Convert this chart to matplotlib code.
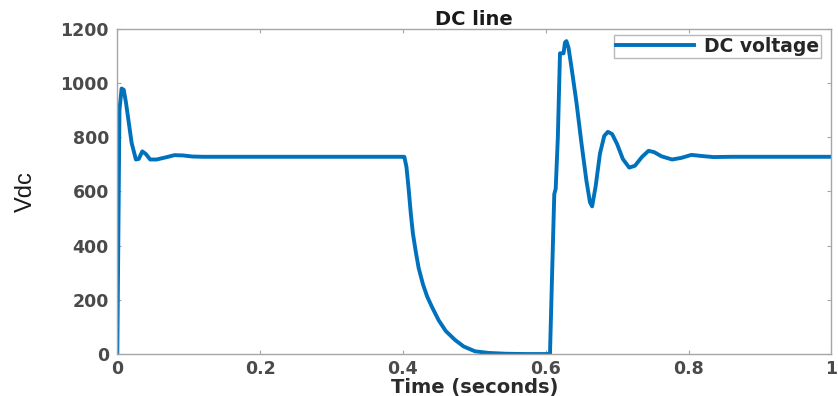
import matplotlib
matplotlib.use('Agg')
import matplotlib.pyplot as plt
from matplotlib import font_manager

# DC link voltage trace
time = [0.0, 0.003, 0.006, 0.009, 0.012, 0.020, 0.026, 0.030, 0.035, 0.040,
        0.046, 0.055, 0.068, 0.080, 0.092, 0.105, 0.120, 0.400,
        0.402, 0.405, 0.408, 0.411, 0.414, 0.418, 0.422, 0.428, 0.434,
        0.441, 0.450, 0.460, 0.473, 0.485, 0.501, 0.520, 0.545, 0.570,
        0.606, 0.609, 0.612, 0.614, 0.617, 0.620, 0.625, 0.627, 0.629,
        0.632, 0.636, 0.643, 0.650, 0.657, 0.662, 0.665, 0.670, 0.676,
        0.682, 0.687, 0.693, 0.700, 0.708, 0.717, 0.725, 0.735, 0.744,
        0.752, 0.762, 0.777, 0.790, 0.804, 0.818, 0.835, 0.860, 1.0]
vdc = [0, 900, 980, 975, 930, 780, 718, 720, 748, 738,
       718, 718, 726, 734, 733, 729, 728, 728,
       728, 690, 610, 520, 445, 378, 318, 258, 212,
       172, 125, 85, 52, 28, 10, 4, 1, 0,
       0, 300, 590, 610, 800, 1110, 1110, 1150, 1155,
       1130, 1060, 930, 780, 640, 560, 545, 620, 740,
       805, 820, 812, 775, 720, 688, 695, 728, 750,
       745, 730, 718, 724, 735, 731, 727, 728, 728]

series_label = 'DC voltage'
x_ticks = [0, 0.2, 0.4, 0.6, 0.8, 1]
x_tick_labels = ['0', '0.2', '0.4', '0.6', '0.8', '1']
y_ticks = [0, 200, 400, 600, 800, 1000, 1200]

installed = {f.name for f in font_manager.fontManager.ttflist}
narrow = 'Liberation Sans Narrow' if 'Liberation Sans Narrow' in installed else 'Liberation Sans'

plt.rcParams['font.family'] = ['DejaVu Sans']

fig = plt.figure(figsize=(8.38, 3.96), dpi=100)
ax = fig.add_axes([0.140, 0.106, 0.852, 0.821])

ax.plot(time, vdc, color='#0072BD', linewidth=2.8, label=series_label)

ax.set_xlim(0, 1)
ax.set_ylim(0, 1200)
ax.set_xticks(x_ticks)
ax.set_xticklabels(x_tick_labels)
ax.set_yticks(y_ticks)

for s in ax.spines.values():
    s.set_color('#a6a6a6')
    s.set_linewidth(1.0)
ax.tick_params(axis='both', direction='in', top=True, right=True, length=3,
               color='#a6a6a6', labelsize=12.5, labelcolor='#4a4a4a')
ax.tick_params(axis='x', pad=4)
ax.tick_params(axis='y', pad=6)
for lab in ax.get_xticklabels() + ax.get_yticklabels():
    lab.set_fontweight('bold')

ax.set_title('DC line', fontweight='bold', fontsize=14, pad=3, color='#1a1a1a')
ax.set_xlabel('Time (seconds)', fontweight='bold', fontsize=14, color='#2b2b2b')
ax.xaxis.set_label_coords(0.5, -0.074, transform=ax.transAxes)
ax.set_ylabel('Vdc', fontsize=17, family=narrow, color='#1a1a1a')
ax.yaxis.set_label_coords(-0.112, 0.5, transform=ax.transAxes)

leg = ax.legend(loc='upper right', bbox_to_anchor=(0.988, 0.987), fontsize=13.5,
                frameon=True, fancybox=False, handlelength=4.2, borderpad=0.1,
                handletextpad=0.5, borderaxespad=0.1)
leg.get_frame().set_edgecolor('#a6a6a6')
leg.get_frame().set_linewidth(1.0)
for t in leg.get_texts():
    t.set_fontweight('bold')
    t.set_color('#262626')

fig.savefig('out.png', dpi=100)
